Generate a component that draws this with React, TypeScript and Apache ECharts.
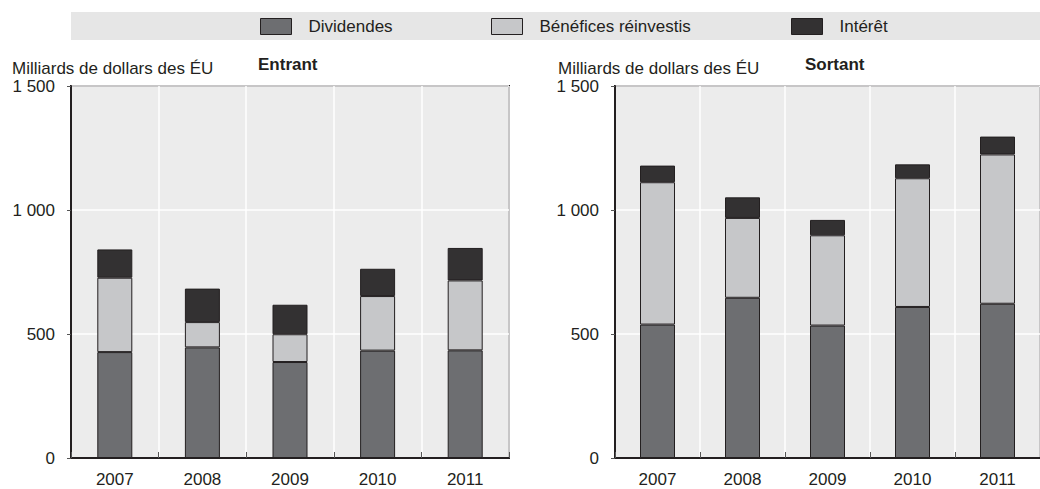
import React, { useEffect, useRef } from "react";
import * as echarts from "echarts";

const years = ["2007", "2008", "2009", "2010", "2011"];
const seriesNames = ["Dividendes", "Bénéfices réinvestis", "Intérêt"];
// Entrant (inward)
const inDividends = [427, 446, 387, 433, 434];
const inReinvested = [300, 102, 112, 220, 282];
const inInterest = [114, 135, 119, 110, 131];
// Sortant (outward)
const outDividends = [538, 646, 534, 609, 622];
const outReinvested = [574, 322, 364, 519, 602];
const outInterest = [67, 83, 62, 56, 72];
const yTicks = [0, 500, 1000, 1500];

const FONT = "'Liberation Sans', Arial, sans-serif";
const colors = ["#6d6e71", "#c6c7c9", "#333132"];
const BORDER = "#231f20";

function fmt(v: number) {
  const s = String(v);
  return s.length > 3 ? s.slice(0, s.length - 3) + " " + s.slice(-3) : s;
}

export default function App() {
  const ref = useRef<HTMLDivElement>(null);
  useEffect(() => {
    if (!ref.current) return;
    const chart = echarts.init(ref.current, undefined, { renderer: "svg" });
    const grids = [
      { left: 71, top: 86, width: 438, height: 372 },
      { left: 615, top: 86, width: 438, height: 372 },
    ];
    const mkX = (i: number) => ({
      type: "category",
      gridIndex: i,
      data: years,
      boundaryGap: true,
      axisLine: { show: true, lineStyle: { color: BORDER, width: 2 } },
      axisTick: { show: true, inside: true, length: 6, lineStyle: { color: "#555", width: 1 } },
      axisLabel: { color: "#231f20", fontFamily: FONT, fontSize: 17, margin: 13 },
      splitLine: { show: true, lineStyle: { color: "#ffffff", width: 1.5 } },
    });
    const mkY = (i: number) => ({
      type: "value",
      gridIndex: i,
      min: yTicks[0],
      max: yTicks[yTicks.length - 1],
      interval: 500,
      axisLine: { show: true, lineStyle: { color: BORDER, width: 2 } },
      axisTick: { show: true, inside: false, length: 4, lineStyle: { color: "#555", width: 1 } },
      axisLabel: {
        color: "#231f20",
        fontFamily: FONT,
        fontSize: 17,
        margin: 16,
        formatter: (v: number) => fmt(v),
      },
      splitLine: { show: true, lineStyle: { color: "#ffffff", width: 1.5 } },
    });
    const data = [
      [inDividends, inReinvested, inInterest],
      [outDividends, outReinvested, outInterest],
    ];
    const series: any[] = [];
    data.forEach((set, gi) => {
      set.forEach((vals, si) => {
        series.push({
          name: seriesNames[si],
          type: "bar",
          xAxisIndex: gi,
          yAxisIndex: gi,
          stack: "s" + gi,
          barWidth: 35,
          data: vals,
          itemStyle: { color: colors[si], borderColor: BORDER, borderWidth: 1 },
        });
      });
    });
    const legendLefts = [260, 491, 791];
    const legends = seriesNames.map((n, i) => ({
      data: [n],
      left: legendLefts[i],
      top: 18,
      padding: 0,
      icon: "rect",
      itemWidth: 31,
      itemHeight: 16,
      selectedMode: false,
      itemStyle: { borderColor: BORDER, borderWidth: 1 },
      textStyle: { fontFamily: FONT, fontSize: 17, color: "#231f20", padding: [0, 0, 0, 12] },
    }));
    const txt = (t: string, x: number, y: number, bold = false) => ({
      type: "text",
      x,
      y,
      z: 10,
      style: {
        text: t,
        fontFamily: FONT,
        fontSize: 17,
        fontWeight: bold ? "bold" : "normal",
        fill: "#231f20",
        verticalAlign: "middle",
        align: "left",
      },
    });
    chart.setOption({
      animation: false,
      backgroundColor: "#ffffff",
      grid: grids.map((g) => ({
        ...g,
        show: true,
        backgroundColor: "#ececec",
        borderColor: BORDER,
        borderWidth: 2,
      })),
      xAxis: [mkX(0), mkX(1)],
      yAxis: [mkY(0), mkY(1)],
      legend: legends,
      graphic: [
        {
          type: "rect",
          z: -10,
          shape: { x: 71, y: 12, width: 1000, height: 28 },
          style: { fill: "#e6e6e6" },
        },
        txt("Milliards de dollars des ÉU", 12, 68),
        txt("Entrant", 258, 64, true),
        txt("Milliards de dollars des ÉU", 558, 68),
        txt("Sortant", 805, 64, true),
      ],
      series,
    });
    return () => chart.dispose();
  }, []);
  return (
    <div
      ref={ref}
      style={{ position: "absolute", left: 0, top: 0, width: 1040, height: 489, overflow: "hidden" }}
    />
  );
}
